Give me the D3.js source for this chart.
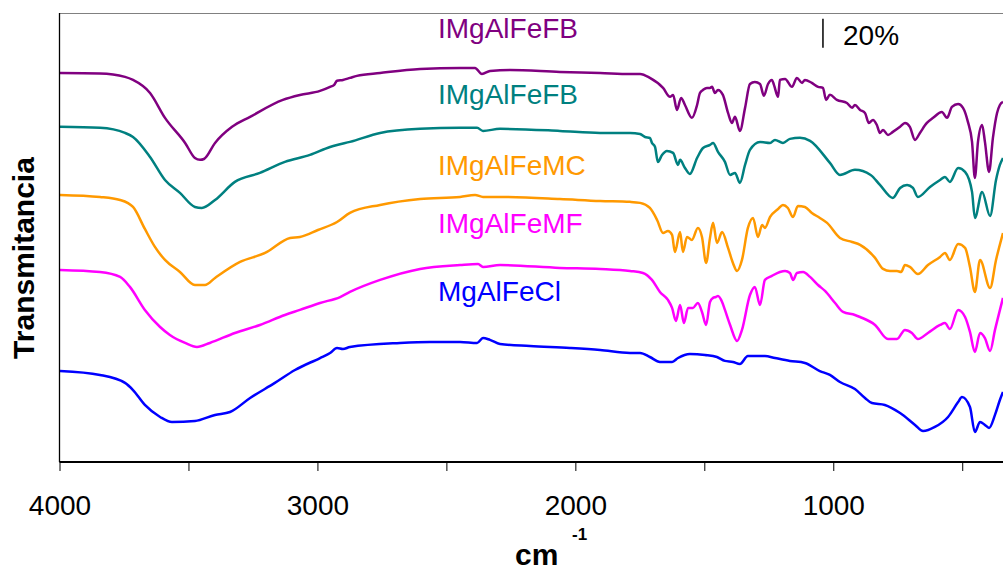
<!DOCTYPE html>
<html>
<head>
<meta charset="utf-8">
<script src="https://cdn.jsdelivr.net/npm/d3@7"></script>
<style>
  html, body { margin: 0; padding: 0; background: #fff; }
  svg { display: block; font-family: "Liberation Sans", Arial, sans-serif; }
</style>
</head>
<body>
<svg id="chart" width="1003" height="570"></svg>
<script>
// ---- Data (wavenumber cm^-1, stacked transmittance %) ----
const seriesLabels = ["IMgAlFeFB", "IMgAlFeFB", "IMgAlFeMC", "IMgAlFeMF", "MgAlFeCl"];
const seriesColors = ["#800080", "#008080", "#FF9900", "#FF00FF", "#0000FF"];

const purple = [
 [3998,268.6],[3843,268.3],[3746,265.9],[3715,263.8],[3649,254.8],[3591,237.6],[3513,220.3],[3475,209.9],[3455,208.6],[3440,209.2],
 [3397,220.3],[3331,231.4],[3261,238.3],[3134,250.0],[3068,253.4],[2990,256.2],[2951,259.0],[2935,260.4],[2924,263.2],[2901,263.8],
 [2874,265.2],[2847,266.6],[2757,268.6],[2602,271.4],[2447,272.1],[2389,272.1],[2362,267.9],[2331,270.0],[2253,270.7],[2060,269.3],
 [1904,268.6],[1788,267.9],[1749,267.9],[1711,265.2],[1660,258.3],[1633,252.1],[1621,253.4],[1606,243.1],[1590,251.4],[1575,246.5],
 [1548,237.6],[1528,246.5],[1517,254.8],[1505,256.9],[1490,258.3],[1478,258.3],[1470,259.0],[1459,254.8],[1447,256.9],[1428,253.5],
 [1408,241.0],[1393,234.1],[1381,238.3],[1362,228.6],[1342,244.5],[1323,261.0],[1304,262.4],[1284,261.0],[1269,252.8],[1253,261.0],
 [1238,263.8],[1230,260.4],[1214,252.1],[1207,263.8],[1187,264.5],[1160,259.0],[1141,265.2],[1121,261.7],[1110,263.8],[1083,261.7],
 [1059,259.0],[1040,258.3],[1028,250.0],[1013,253.5],[986,250.0],[947,247.9],[927,244.5],[916,246.5],[896,243.1],[877,241.0],
 [862,234.1],[846,236.2],[831,232.7],[819,227.2],[807,229.3],[788,225.8],[769,227.9],[741,231.4],[722,234.1],[703,231.4],
 [683,222.4],[664,227.2],[637,234.1],[613,237.6],[579,241.7],[559,237.6],[540,245.2],[516,247.2],[497,244.5],[478,234.8],
 [462,221.0],[451,196.1],[439,221.0],[423,232.7],[412,221.0],[396,200.3],[381,223.8],[365,241.0],[354,246.5],[342,248.6]
];

const teal = [
 [3998,231.4],[3843,230.7],[3746,227.2],[3715,224.4],[3649,210.6],[3591,194.7],[3533,185.8],[3475,176.1],[3448,175.4],[3397,180.9],
 [3320,193.4],[3223,199.6],[3126,207.2],[3029,212.0],[2951,217.5],[2924,218.9],[2874,221.0],[2757,227.2],[2602,230.0],[2447,230.7],
 [2381,230.7],[2358,228.6],[2292,230.0],[2060,228.6],[1904,227.2],[1788,227.2],[1749,226.5],[1730,224.4],[1711,223.8],[1703,220.3],
 [1691,217.5],[1680,207.2],[1664,212.0],[1645,214.8],[1621,213.4],[1602,205.1],[1594,208.6],[1575,203.0],[1556,198.9],[1528,209.9],
 [1505,216.8],[1478,218.9],[1466,220.3],[1447,214.1],[1420,207.2],[1400,198.2],[1381,199.6],[1362,192.7],[1342,205.1],[1323,215.5],
 [1284,221.0],[1245,220.3],[1226,222.4],[1195,220.3],[1168,223.1],[1129,223.8],[1090,221.7],[1013,206.5],[974,198.2],[916,201.7],
 [855,198.2],[819,191.3],[769,182.3],[741,189.2],[714,191.3],[691,189.2],[672,183.0],[625,189.9],[586,194.7],[567,196.8],
 [548,193.4],[516,203.0],[489,200.3],[462,186.5],[451,168.5],[423,186.5],[392,169.9],[369,194.7],[354,205.1],[342,209.9]
];

const orange = [
 [3998,184.4],[3843,183.0],[3765,180.9],[3715,176.1],[3669,160.9],[3630,148.5],[3591,139.5],[3533,131.2],[3475,122.2],[3436,122.2],
 [3397,127.1],[3300,138.1],[3203,144.3],[3106,154.7],[3068,155.4],[2998,160.2],[2924,165.7],[2874,172.0],[2757,177.5],[2602,181.6],
 [2447,183.0],[2389,184.4],[2358,183.0],[2292,183.0],[2060,181.6],[1904,180.2],[1788,179.6],[1749,178.9],[1711,175.4],[1683,167.1],
 [1660,158.1],[1641,159.5],[1625,156.8],[1614,145.0],[1594,158.8],[1583,145.0],[1567,155.4],[1548,153.3],[1525,161.6],[1509,155.4],
 [1493,137.4],[1478,154.7],[1466,165.1],[1451,151.2],[1431,158.8],[1408,147.8],[1389,137.4],[1373,131.9],[1354,139.5],[1331,161.6],
 [1311,168.5],[1292,155.4],[1276,163.7],[1265,161.6],[1245,169.2],[1214,174.7],[1195,177.5],[1176,175.4],[1156,169.2],[1137,176.8],
 [1110,176.1],[1083,172.0],[1052,168.5],[1024,165.1],[974,154.7],[927,151.9],[896,149.9],[838,140.9],[807,133.3],[780,131.9],
 [753,131.9],[737,131.2],[722,136.0],[703,134.7],[672,129.8],[633,136.0],[586,141.6],[567,144.3],[548,139.5],[516,150.5],
 [489,147.8],[470,134.7],[451,117.4],[431,139.5],[392,120.2],[369,139.5],[342,158.1]
];

const magenta = [
 [3998,132.6],[3843,131.2],[3765,127.8],[3727,120.9],[3669,105.0],[3610,93.2],[3572,87.7],[3513,82.2],[3467,79.4],[3417,82.2],
 [3320,89.1],[3223,94.6],[3126,101.5],[3068,105.0],[2990,109.8],[2912,113.9],[2874,117.4],[2757,125.7],[2602,133.3],[2447,136.0],
 [2377,136.7],[2358,134.7],[2292,136.0],[2060,134.0],[1904,133.3],[1788,131.9],[1738,130.5],[1703,125.7],[1672,117.4],[1641,111.9],
 [1625,106.4],[1610,97.4],[1594,108.4],[1579,96.0],[1563,106.4],[1544,106.4],[1525,109.8],[1509,103.6],[1493,94.6],[1478,110.5],
 [1466,113.3],[1455,113.9],[1447,114.6],[1431,110.5],[1420,105.0],[1400,94.6],[1373,83.6],[1354,91.2],[1323,115.3],[1304,120.9],
 [1284,108.4],[1265,125.7],[1238,128.5],[1207,131.2],[1187,131.9],[1168,130.5],[1156,125.7],[1141,130.5],[1117,131.2],[1090,127.8],
 [1059,122.2],[1032,118.1],[993,109.8],[962,103.6],[916,101.5],[896,100.1],[838,94.6],[788,84.9],[753,84.9],[722,91.2],
 [695,89.1],[672,84.9],[633,89.1],[586,94.6],[567,96.0],[548,91.8],[516,105.0],[489,100.1],[470,89.8],[451,76.0],
 [431,89.1],[412,85.6],[392,76.7],[373,91.2],[342,113.3]
];

const blue = [
 [3998,62.8],[3843,60.1],[3746,54.6],[3715,49.7],[3669,39.4],[3610,31.1],[3564,27.6],[3475,28.3],[3397,32.5],[3339,34.5],
 [3261,44.2],[3165,54.6],[3087,63.5],[2990,71.8],[2951,75.3],[2924,78.7],[2901,78.0],[2874,79.4],[2680,82.2],[2564,82.9],
 [2447,82.9],[2381,82.2],[2358,85.6],[2331,84.3],[2292,81.5],[2176,80.1],[2021,78.7],[1904,77.3],[1788,75.3],[1749,75.3],
 [1711,72.5],[1672,69.1],[1625,69.1],[1602,71.8],[1556,74.6],[1497,73.9],[1451,72.5],[1420,69.8],[1389,69.1],[1362,67.7],
 [1331,73.2],[1296,73.2],[1265,73.2],[1226,71.8],[1168,69.8],[1110,68.4],[1052,62.8],[1013,60.1],[974,55.2],[916,50.4],
 [877,44.2],[850,40.7],[800,39.4],[741,33.8],[683,25.6],[652,21.4],[606,24.2],[555,31.1],[516,41.4],[501,44.9],
 [470,38.0],[451,20.7],[431,27.6],[412,25.6],[396,23.5],[373,32.5],[354,42.8],[342,48.3]
];

const seriesData = [purple, teal, orange, magenta, blue];

const xTickValues = [4000, 3500, 3000, 2500, 2000, 1500, 1000, 500];
const xTickLabels = ["4000", "", "3000", "", "2000", "", "1000", ""];

const scaleBarValue = 20;      // %
const scaleBarWn = 1040;       // position of the 20 % bar
const scaleBarBase = 286;      // bottom of the bar (stacked %)

// ---- Layout ----
const svg = d3.select("#chart");
const pL = 59.5, pR = 1003.5, pT = 13, pB = 462;

const x = d3.scaleLinear().domain([4000, 340]).range([pL, pR]);
const y = d3.scaleLinear().domain([0, 310]).range([pB, pT]);

svg.append("defs").append("clipPath").attr("id", "plotclip")
  .append("rect").attr("x", pL).attr("y", pT).attr("width", pR - pL).attr("height", pB - pT);

// top frame line
svg.append("line").attr("x1", pL).attr("x2", 1003).attr("y1", pT + 0.5).attr("y2", pT + 0.5)
  .attr("stroke", "#808080").attr("stroke-width", 1.2);

// curves
const line = d3.line().x(d => x(d[0])).y(d => y(d[1])).curve(d3.curveMonotoneX);
const g = svg.append("g").attr("clip-path", "url(#plotclip)");
seriesData.forEach((s, i) => {
  g.append("path").datum(s).attr("d", line)
    .attr("fill", "none").attr("stroke", seriesColors[i]).attr("stroke-width", 2.5)
    .attr("stroke-linejoin", "round");
});

// left axis line
svg.append("line").attr("x1", pL).attr("x2", pL).attr("y1", pT).attr("y2", pB)
  .attr("stroke", "#000").attr("stroke-width", 1.3);

// bottom axis
const xAxis = d3.axisBottom(x).tickValues(xTickValues)
  .tickFormat((d, i) => xTickLabels[i]).tickSize(9).tickSizeOuter(0);
const ax = svg.append("g").attr("transform", `translate(0,${pB})`).call(xAxis);
ax.select(".domain").attr("stroke", "#000").attr("stroke-width", 2).attr("d", `M${pL},0H1003`);
ax.selectAll(".tick line").attr("stroke", "#000").attr("stroke-width", 1);
ax.selectAll(".tick text").attr("font-size", 28).attr("fill", "#000")
  .attr("font-family", "'Liberation Sans', Arial, sans-serif").attr("dy", null).attr("y", 53);

// axis titles
svg.append("text").attr("x", 515).attr("y", 565).attr("font-size", 30).attr("font-weight", "bold").text("cm");
svg.append("text").attr("x", 572).attr("y", 540).attr("font-size", 17).attr("font-weight", "bold").text("-1");
svg.append("text").attr("transform", "translate(34,258) rotate(-90)").attr("text-anchor", "middle")
  .attr("font-size", 30).attr("font-weight", "bold").text("Transmitancia");

// series labels
const labelBaselines = [38, 104, 175, 233, 301];
seriesLabels.forEach((t, i) => {
  svg.append("text").attr("x", 438).attr("y", labelBaselines[i]).attr("font-size", 28)
    .attr("fill", seriesColors[i]).text(t);
});

// 20 % scale bar
svg.append("line").attr("x1", x(scaleBarWn)).attr("x2", x(scaleBarWn))
  .attr("y1", y(scaleBarBase)).attr("y2", y(scaleBarBase + scaleBarValue))
  .attr("stroke", "#000").attr("stroke-width", 1.5);
svg.append("text").attr("x", 843).attr("y", 45).attr("font-size", 28).text(scaleBarValue + "%");
</script>
</body>
</html>
